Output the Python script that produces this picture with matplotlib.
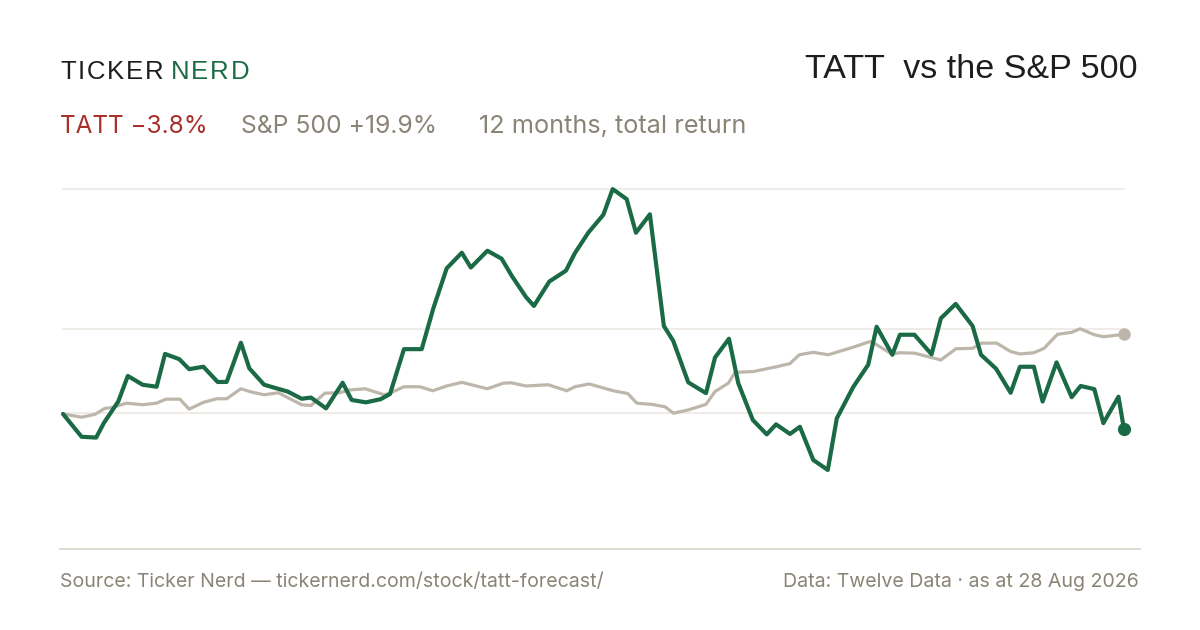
import matplotlib
matplotlib.use("Agg")
import matplotlib.pyplot as plt
from matplotlib.lines import Line2D

# ---- data (days since start, total return %) ----
tatt_days = [0, 6.4, 11.4, 14.1, 19.0, 22.3, 27.4, 32.2, 35.1, 40.0, 43.4, 48.3, 53.2, 56.3,
             61.2, 64.1, 69.2, 77.3, 82.1, 85.3, 90.5, 96.2, 99.3, 104.2, 109.3, 112.5,
             117.3, 123.4, 127.4, 132.0, 137.2, 140.3, 146.0, 150.9, 154.4, 159.3, 162.0,
             167.3, 173.0, 176.1, 180.7, 185.9, 189.1, 193.9, 197.1, 201.9, 206.7, 209.9,
             215.1, 221.2, 224.3, 229.1, 232.3, 237.3, 242.1, 245.3, 250.1, 253.5, 258.1,
             263.1, 266.2, 271.9, 277.0, 279.9, 285.3, 287.9, 292.9, 298.8, 302.0, 307.1,
             312.9, 315.8, 321.0, 326.0, 329.2, 334.0, 337.0, 341.8, 347.0, 350.1, 354.8,
             357.9, 363.1, 365.0]
tatt_ret = [0.0, -5.7, -5.9, -2.2, 3.1, 9.5, 7.3, 6.8, 15.0, 13.7, 11.2, 11.8, 8.0, 8.0,
            17.8, 11.4, 7.3, 5.6, 3.8, 4.1, 1.4, 7.8, 3.5, 2.9, 3.7, 5.0,
            16.2, 16.2, 26.4, 36.4, 40.3, 36.6, 40.8, 38.8, 34.5, 29.2, 27.0,
            33.1, 35.8, 40.2, 45.3, 49.8, 56.2, 53.7, 45.3, 49.9, 22.0, 18.3,
            7.9, 5.2, 14.1, 18.8, 7.7, -1.5, -5.1, -2.6, -5.0, -3.2, -11.5,
            -14.0, -1.1, 6.8, 12.3, 21.8, 14.8, 19.8, 19.8, 14.9, 23.9, 27.5,
            22.0, 14.8, 11.3, 5.3, 11.8, 11.8, 3.1, 12.9, 4.2, 7.0, 6.2,
            -2.3, 4.3, -3.8]

spx_days = [0, 6.4, 11.0, 14.4, 16.8, 21.9, 27.4, 32.2, 35.4, 40.2, 43.4, 48.3, 52.9, 56.3,
            61.2, 64.7, 69.2, 74.1, 77.0, 82.1, 85.3, 90.1, 95.1, 98.7, 103.9, 110.5,
            112.5, 117.3, 122.8, 127.2, 132.0, 137.2, 146.0, 151.5, 154.1, 159.3, 166.9,
            173.3, 176.1, 181.0, 189.3, 194.3, 197.4, 202.5, 207.1, 210.0, 215.1, 221.2,
            224.3, 228.9, 231.2, 237.5, 242.1, 245.5, 250.1, 253.3, 258.1, 263.3, 271.9,
            277.6, 279.9, 285.1, 287.9, 292.9, 302.0, 307.2, 312.9, 316.0, 321.2, 326.0,
            329.2, 334.0, 337.5, 342.1, 347.0, 349.9, 354.8, 357.9, 365.0]
spx_ret = [0.0, -0.8, -0.1, 1.4, 1.6, 2.7, 2.3, 2.7, 3.7, 3.7, 1.2, 2.9, 3.8, 3.8,
           6.3, 5.5, 4.8, 5.3, 4.2, 2.3, 2.1, 5.2, 5.3, 6.0, 6.3, 4.8,
           5.2, 6.8, 6.8, 5.8, 7.0, 7.9, 6.3, 7.7, 7.8, 7.0, 7.3,
           5.8, 6.8, 7.5, 5.8, 5.1, 2.7, 2.4, 1.8, 0.2, 1.0, 2.4,
           5.6, 7.7, 10.4, 10.6, 11.3, 11.8, 12.6, 14.8, 15.4, 14.8, 16.7,
           18.1, 17.3, 15.0, 15.3, 15.2, 13.5, 16.3, 16.4, 17.7, 17.7, 15.6,
           15.0, 15.3, 16.4, 19.9, 20.4, 21.3, 19.8, 19.3, 19.9]

grid_levels = [0.25, 21.25, 56.1]

tatt_label = "TATT \u22123.8%"
spx_label = "S&P 500 +19.9%"
period_label = "12 months, total return"
title = "TATT  vs the S&P 500"
source = "Source: Ticker Nerd \u2014 tickernerd.com/stock/tatt-forecast/"
data_note = "Data: Twelve Data \u00b7 as at 28 Aug 2026"

GREEN = "#1a6b45"
RED = "#a8302a"
GREY_TXT = "#8a8476"
SPX_COL = "#bdb6ab"
GRID = "#ece9e3"
AXIS = "#ddd8cc"
INK = "#1e1e1e"

W, H = 1200, 630
fig = plt.figure(figsize=(12, 6.3), dpi=100)
fig.patch.set_facecolor("white")


def fx(px):
    return px / W


def fy(py):
    return 1 - py / H


ax = fig.add_axes([fx(63), fy(548), fx(1124) - fx(63), fy(189.5) - fy(548)])
ax.set_xlim(0, 365)
ax.set_ylim(-33.5, 56.1)
ax.axis("off")

for g in grid_levels:
    ax.axhline(g, color=GRID, lw=1.2, zorder=1, clip_on=False)

ax.plot(spx_days, spx_ret, color=SPX_COL, lw=2.3, zorder=2, clip_on=False,
        solid_joinstyle="round", solid_capstyle="round")
ax.plot(tatt_days, tatt_ret, color=GREEN, lw=3.0, zorder=3, clip_on=False,
        solid_joinstyle="round", solid_capstyle="round")
ax.plot([spx_days[-1]], [spx_ret[-1]], "o", ms=8, color=SPX_COL, zorder=4, clip_on=False)
ax.plot([tatt_days[-1]], [tatt_ret[-1]], "o", ms=8.5, color=GREEN, zorder=5, clip_on=False)

fig.add_artist(Line2D([fx(60), fx(1140)], [fy(548.5), fy(548.5)], color=AXIS, lw=1.3))

FONT = ["Liberation Sans", "DejaVu Sans"]
FONT2 = ["Inter", "Liberation Sans", "DejaVu Sans"]

renderer = fig.canvas.get_renderer()


def tracked(x_px, y_px, s, color, size, track_px):
    x = x_px
    for ch in s:
        t = fig.text(fx(x), fy(y_px), ch, fontsize=size, color=color, family=FONT,
                     va="baseline", ha="left")
        bb = t.get_window_extent(renderer=renderer)
        x += bb.width + track_px
    return x


xe = tracked(60, 79.3, "TICKER", INK, 18.5, 1.9)
tracked(xe + 5, 79.3, "NERD", GREEN, 18.5, 1.9)

fig.text(fx(1138), fy(78.3), title, fontsize=24.5, color=INK, family=FONT,
         ha="right", va="baseline")

fig.text(fx(60), fy(132.7), tatt_label, fontsize=17.5, color=RED, family=FONT2,
         ha="left", va="baseline")
fig.text(fx(241), fy(132.7), spx_label, fontsize=17.8, color=GREY_TXT, family=FONT2,
         ha="left", va="baseline")
fig.text(fx(479), fy(132.7), period_label, fontsize=18.2, color=GREY_TXT, family=FONT2,
         ha="left", va="baseline")

fig.text(fx(60), fy(586.7), source, fontsize=14.1, color=GREY_TXT, family=FONT2,
         ha="left", va="baseline")
fig.text(fx(1139), fy(586.7), data_note, fontsize=14.1, color=GREY_TXT, family=FONT2,
         ha="right", va="baseline")

fig.savefig("out.png", dpi=100, facecolor="white")
